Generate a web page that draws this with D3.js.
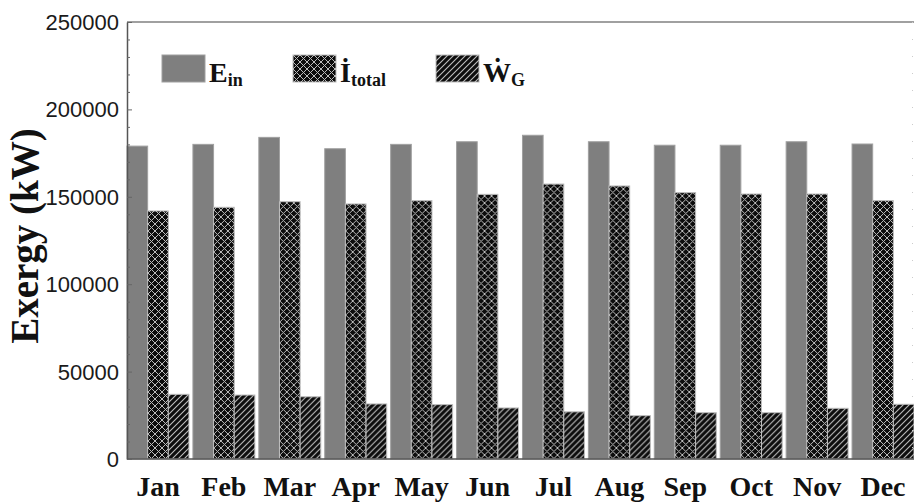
<!DOCTYPE html>
<html>
<head>
<meta charset="utf-8">
<script src="https://cdn.jsdelivr.net/npm/d3@7"></script>
<style>
  html, body { margin: 0; padding: 0; background: #fff; }
  svg { display: block; }
</style>
</head>
<body>
<svg id="chart" width="914" height="502"></svg>
<script>
// Monthly exergy balance (kW)
const months = ["Jan", "Feb", "Mar", "Apr", "May", "Jun", "Jul", "Aug", "Sep", "Oct", "Nov", "Dec"];
const exergyIn = [179000, 180000, 184000, 177500, 180000, 181500, 185200, 181500, 179500, 179500, 181500, 180200];
const exergyDestroyed = [141900, 144000, 147200, 145900, 147800, 151400, 157300, 156200, 152400, 151600, 151600, 147800];
const powerOut = [37000, 36600, 35600, 31500, 31100, 29200, 27000, 24800, 26500, 26500, 29000, 31300];
const yTicks = [0, 50000, 100000, 150000, 200000, 250000];
const seriesKeys = ["Ein", "Itotal", "WG"];

const svg = d3.select("#chart");
const plotLeft = 127, plotRight = 914, plotTop = 22, plotBottom = 459;

const x = d3.scaleBand().domain(months).range([plotLeft, plotRight]).paddingInner(0.06).paddingOuter(0);
const xs = d3.scaleBand().domain(seriesKeys).range([0, x.bandwidth()]);
const y = d3.scaleLinear().domain([0, 250000]).range([plotBottom, plotTop]);

// Fill patterns: cross-hatch for exergy destruction, diagonal hatch for power
const defs = svg.append("defs");
const cross = defs.append("pattern").attr("id", "cross")
  .attr("patternUnits", "userSpaceOnUse").attr("width", 7).attr("height", 7);
cross.append("rect").attr("width", 7).attr("height", 7).attr("fill", "#0d0d0d");
cross.append("path").attr("d", "M0,0L7,7M7,0L0,7M-1,6L1,8M6,-1L8,1M-1,1L1,-1M6,8L8,6")
  .attr("stroke", "#bcbcbc").attr("stroke-width", 1);

const hatch = defs.append("pattern").attr("id", "hatch")
  .attr("patternUnits", "userSpaceOnUse").attr("width", 6).attr("height", 6);
hatch.append("rect").attr("width", 6).attr("height", 6).attr("fill", "#0d0d0d");
hatch.append("path").attr("d", "M0,6L6,0M-1,1L1,-1M5,7L7,5")
  .attr("stroke", "#bdbdbd").attr("stroke-width", 1.1);

const fills = { Ein: "#7f7f7f", Itotal: "url(#cross)", WG: "url(#hatch)" };
const strokes = { Ein: "#a0a0a0", Itotal: "#bdbdbd", WG: "#bdbdbd" };

const rows = months.map((m, i) => ({ month: m, Ein: exergyIn[i], Itotal: exergyDestroyed[i], WG: powerOut[i] }));

// Bars
const groups = svg.append("g").selectAll("g").data(rows).join("g")
  .attr("transform", d => `translate(${x(d.month)},0)`);
groups.selectAll("rect").data(d => seriesKeys.map(k => ({ key: k, value: d[k] }))).join("rect")
  .attr("x", d => xs(d.key))
  .attr("y", d => y(d.value))
  .attr("width", xs.bandwidth())
  .attr("height", d => y(0) - y(d.value))
  .attr("fill", d => fills[d.key])
  .attr("stroke", d => strokes[d.key])
  .attr("stroke-width", 1);

// Frame
svg.append("line").attr("x1", plotLeft).attr("x2", plotRight).attr("y1", plotTop).attr("y2", plotTop)
  .attr("stroke", "#808080").attr("stroke-width", 1.5);
svg.append("line").attr("x1", plotLeft).attr("x2", plotRight).attr("y1", plotBottom).attr("y2", plotBottom)
  .attr("stroke", "#555").attr("stroke-width", 1.5);
svg.append("line").attr("x1", 912.5).attr("x2", 912.5).attr("y1", plotTop).attr("y2", plotBottom)
  .attr("stroke", "#ccc").attr("stroke-width", 1).attr("stroke-dasharray", "1,16");

// Left axis with inward ticks
const yAxis = d3.axisRight(y).tickValues(d3.range(0, 250001, 10000)).tickSize(0).tickFormat("");
const ya = svg.append("g").attr("transform", `translate(${plotLeft},0)`).call(yAxis);
ya.select(".domain").attr("stroke", "#555").attr("stroke-width", 1.5);
ya.selectAll(".tick line").attr("x2", d => d % 50000 === 0 ? 5 : 3).attr("stroke", "#666");

svg.append("g").selectAll("text").data(yTicks).join("text")
  .attr("x", 119).attr("y", d => y(d)).attr("dy", "0.36em")
  .attr("text-anchor", "end")
  .attr("font-family", "Liberation Sans, Arial, sans-serif")
  .attr("font-size", 22).attr("fill", "#1a1a1a")
  .text(d => d);

// Month labels
svg.append("g").selectAll("text").data(months).join("text")
  .attr("x", d => x(d) + x.bandwidth() / 2).attr("y", 496)
  .attr("text-anchor", "middle")
  .attr("font-family", "Liberation Serif, Times New Roman, serif")
  .attr("font-weight", "bold").attr("font-size", 28).attr("fill", "#111")
  .text(d => d);

// Axis title
svg.append("text")
  .attr("transform", "translate(38,236) rotate(-90)")
  .attr("text-anchor", "middle")
  .attr("font-family", "Liberation Serif, Times New Roman, serif")
  .attr("font-weight", "bold").attr("font-size", 39).attr("fill", "#111")
  .text("Exergy (kW)");

// Legend: symbol (dotted for rates) with subscript
const legend = [
  { key: "Ein", x: 162, main: "E", sub: "in" },
  { key: "Itotal", x: 293, main: "İ", sub: "total" },
  { key: "WG", x: 436, main: "Ẇ", sub: "G" }
];
const lg = svg.append("g").selectAll("g").data(legend).join("g")
  .attr("transform", d => `translate(${d.x},55)`);
lg.append("rect").attr("width", 43).attr("height", 27)
  .attr("fill", d => fills[d.key]).attr("stroke", d => strokes[d.key]).attr("stroke-width", 1);
const lt = lg.append("text").attr("x", 47).attr("y", 27)
  .attr("font-family", "Liberation Serif, Times New Roman, serif")
  .attr("font-weight", "bold").attr("fill", "#111");
lt.append("tspan").attr("font-size", 28).text(d => d.main);
lt.append("tspan").attr("font-size", 18).attr("dy", 4).text(d => d.sub);
</script>
</body>
</html>
